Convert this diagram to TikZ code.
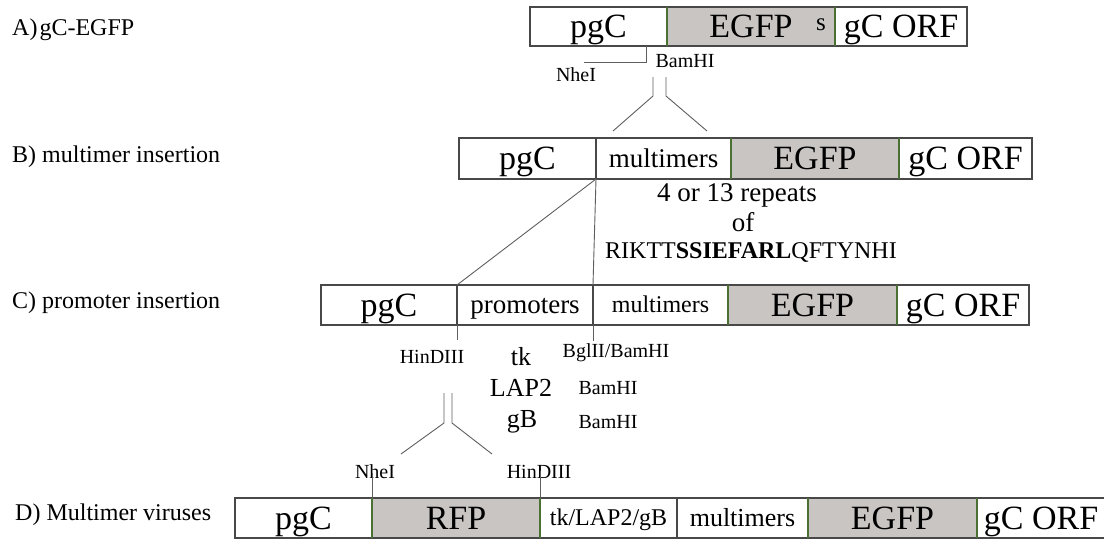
\documentclass[tikz,border=0pt]{standalone}
\usepackage{fontspec}
\setmainfont{Liberation Serif}
\definecolor{boxline}{RGB}{72,72,72}
\definecolor{gfill}{RGB}{201,197,195}
\definecolor{gedge}{RGB}{74,112,52}
\definecolor{connc}{RGB}{95,95,95}
\tikzset{
  seg/.style={draw=boxline, line width=1.1pt, inner sep=0pt, outer sep=0pt, anchor=center},
  shade/.style={fill=gfill},
  big/.style={font=\fontsize{34}{34}\selectfont, text height=22.5pt, text depth=0pt},
  midB/.style={font=\fontsize{27}{27}\selectfont, text height=17.9pt, text depth=0pt},
  midC/.style={font=\fontsize{24}{24}\selectfont, text height=15.9pt, text depth=0pt},
  midD/.style={font=\fontsize{26}{26}\selectfont, text height=17.2pt, text depth=0pt},
  site/.style={font=\fontsize{20}{20}\selectfont, inner sep=0pt},
  prom/.style={font=\fontsize{26}{26}\selectfont, inner sep=0pt},
  note/.style={font=\fontsize{27}{27}\selectfont, inner sep=0pt},
  seqtext/.style={font=\fontsize{24}{24}\selectfont, inner sep=0pt},
  lab/.style={font=\fontsize{24}{24}\selectfont, anchor=base west, inner sep=0pt},
  conn/.style={draw=connc, line width=0.9pt},
  gline/.style={draw=gedge, line width=1.1pt},
  rowA/.style={minimum height=39pt},
  rowB/.style={minimum height=41pt},
  rowC/.style={minimum height=40pt},
  rowD/.style={minimum height=40pt},
}
\begin{document}
\begin{tikzpicture}[x=1pt,y=-1pt]
\useasboundingbox (0,0) rectangle (1104,539);
\fill[white] (0,0) rectangle (1104,539);

% left labels
\node[lab] (labA) at (12,35) {A)\hspace{2pt}gC-EGFP};
\node[lab] (labB) at (12,162) {B) multimer insertion};
\node[lab] (labC) at (12,308) {C) promoter insertion};
\node[lab] (labD) at (15,520) {D) Multimer viruses};

% row A
\node[seg,big,rowA,minimum width=137pt] (a1) at (598.5,26.5) {pgC};
\node[seg,big,rowA,shade,minimum width=168pt] (a2) at (751,26.5) {EGFP};
\node[seg,big,rowA,minimum width=132pt] (a3) at (901,26.5) {gC ORF};
\node[font=\fontsize{25}{25}\selectfont, inner sep=0pt] (as) at (821,25) {s};
\draw[gline] (a2.north west) -- (a2.south west);
\draw[gline] (a2.north east) -- (a2.south east);

% sites A
\node[site] (nheA) at (576,75) {NheI};
\node[site] (bamA) at (685,61) {BamHI};
\coordinate (nheAend) at (584,62);
\draw[conn] ([xshift=-21pt]a1.south east) |- (nheAend);
\coordinate (dA1t) at (653,77);
\coordinate (dA1b) at (653,96);
\coordinate (dA1e) at (613,131);
\coordinate (dA2t) at (666,77);
\coordinate (dA2b) at (666,96);
\coordinate (dA2e) at (707,131);
\draw[conn] (dA1t) -- (dA1b) -- (dA1e);
\draw[conn] (dA2t) -- (dA2b) -- (dA2e);

% row B
\node[seg,big,rowB,minimum width=137pt] (b1) at (527.5,158.5) {pgC};
\node[seg,midB,rowB,minimum width=135pt] (b2) at (663.5,158.5) {multimers};
\node[seg,big,rowB,shade,minimum width=168pt] (b3) at (815,158.5) {EGFP};
\node[seg,big,rowB,minimum width=133pt] (b4) at (965.5,158.5) {gC ORF};
\draw[gline] (b3.north west) -- (b3.south west);
\draw[gline] (b3.north east) -- (b3.south east);

\node[note] (rep) at (737,195) {4 or 13 repeats};
\node[note] (of) at (743,222) {of};
\node[seqtext] (seq) at (751,252) {RIKTT\textbf{SSIEFARL}QFTYNHI};

% row C
\node[seg,big,rowC,minimum width=136pt] (c1) at (389,305) {pgC};
\node[seg,midB,rowC,minimum width=136pt] (c2) at (525,305) {promoters};
\node[seg,midC,rowC,minimum width=135pt] (c3) at (660.5,305) {multimers};
\node[seg,big,rowC,shade,minimum width=169pt] (c4) at (812.5,305) {EGFP};
\node[seg,big,rowC,minimum width=132pt] (c5) at (963,305) {gC ORF};
\draw[gline] (c4.north west) -- (c4.south west);
\draw[gline] (c4.north east) -- (c4.south east);

% B to C connectors
\draw[conn] (b1.south east) -- (c1.north east);
\draw[conn] (b1.south east) -- (c2.north east);

% C ticks and labels
\coordinate (tkC1) at (457,340);
\coordinate (tkC2) at (593,341);
\draw[conn] (c1.south east) -- (tkC1);
\draw[conn] (c2.south east) -- (tkC2);
\node[site] (hinC) at (432,357) {HinDIII};
\node[prom] (ptk) at (521,357) {tk};
\node[site] (bglC) at (616,353) {BglII/BamHI};
\node[prom] (plap) at (521,388) {LAP2};
\node[site] (bamC1) at (608,388) {BamHI};
\node[prom] (pgb) at (522,422) {gB};
\node[site] (bamC2) at (608,422) {BamHI};

% C to D double lines
\coordinate (dC1t) at (444,393);
\coordinate (dC1b) at (444,423);
\coordinate (dC1e) at (401,454);
\coordinate (dC2t) at (452,393);
\coordinate (dC2b) at (452,423);
\coordinate (dC2e) at (492,454);
\draw[conn] (dC1t) -- (dC1b) -- (dC1e);
\draw[conn] (dC2t) -- (dC2b) -- (dC2e);

% row D
\node[seg,big,rowD,minimum width=137pt] (d1) at (303.5,518) {pgC};
\node[seg,big,rowD,shade,minimum width=168pt] (d2) at (456,518) {RFP};
\node[seg,midC,rowD,minimum width=137pt] (d3) at (608.5,518) {tk/LAP2/gB};
\node[seg,midD,rowD,minimum width=131pt] (d4) at (742.5,518) {multimers};
\node[seg,big,rowD,shade,minimum width=169pt] (d5) at (892.5,518) {EGFP};
\node[seg,big,rowD,minimum width=128pt] (d6) at (1041,518) {gC ORF};
\draw[gline] (d2.north west) -- (d2.south west);
\draw[gline] (d2.north east) -- (d2.south east);
\draw[gline] (d5.north west) -- (d5.south west);
\draw[gline] (d5.north east) -- (d5.south east);

% D sites
\node[site] (nheD) at (375,472) {NheI};
\node[site] (hinD) at (539,472) {HinDIII};
\coordinate (nheDtop) at (372,473);
\coordinate (hinDtop) at (540,471);
\draw[conn] (d1.north east) -- (nheDtop);
\draw[conn] (d2.north east) -- (hinDtop);
\end{tikzpicture}
\end{document}
